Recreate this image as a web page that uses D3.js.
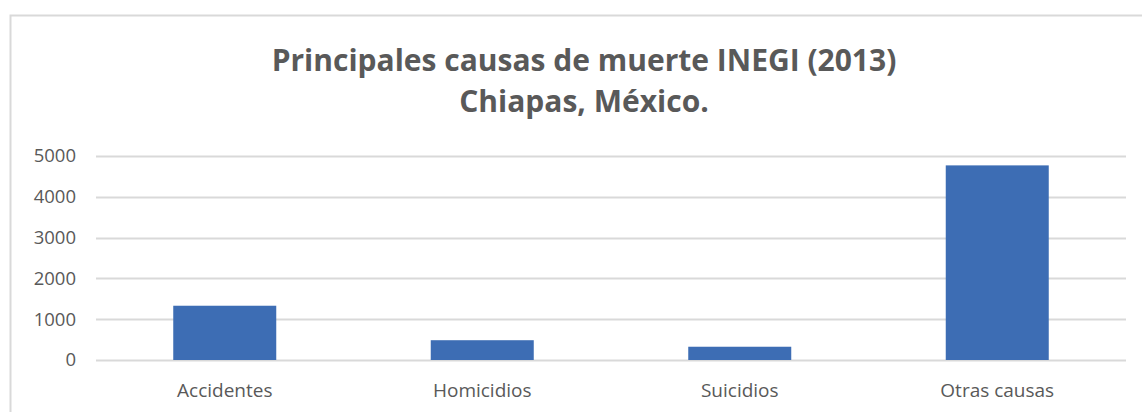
<!DOCTYPE html>
<html>
<head>
<meta charset="utf-8">
<title>Principales causas de muerte INEGI (2013)</title>
<script src="https://cdn.jsdelivr.net/npm/d3@7"></script>
<style>
  body { margin: 0; background: #fff; }
  svg { display: block; font-family: "Open Sans", "Noto Sans", sans-serif; }
  .title { font-weight: bold; fill: #595959; }
  .tick text { fill: #595959; font-family: "Open Sans", "Noto Sans", sans-serif; }
</style>
</head>
<body>
<div id="chart"></div>
<script>
var categories = ["Accidentes", "Homicidios", "Suicidios", "Otras causas"];
var values = [1330, 485, 325, 4770];
var yTicks = [0, 1000, 2000, 3000, 4000, 5000];
var titleLines = ["Principales causas de muerte INEGI (2013)", "Chiapas, México."];

var W = 1142, H = 412;
var margin = {left: 96, right: 16, top: 156, bottom: 52};

var svg = d3.select("#chart").append("svg")
    .attr("width", W).attr("height", H);

// chart area border (only left + top visible in the crop)
svg.append("rect")
    .attr("x", 10.5).attr("y", 15.5)
    .attr("width", W + 20).attr("height", H + 20)
    .attr("fill", "none").attr("stroke", "#d9d9d9").attr("stroke-width", 2);

var x = d3.scaleBand()
    .domain(categories)
    .range([margin.left, W - margin.right])
    .padding(0);

var y = d3.scaleLinear()
    .domain([0, 5000])
    .range([H - margin.bottom, margin.top]);

// gridlines
svg.append("g").selectAll("line")
    .data(yTicks)
    .enter().append("line")
    .attr("x1", margin.left).attr("x2", W - margin.right)
    .attr("y1", function(d){ return Math.round(y(d)) + 0.5; })
    .attr("y2", function(d){ return Math.round(y(d)) + 0.5; })
    .attr("stroke", "#d9d9d9").attr("stroke-width", 2);

// bars
var barW = x.bandwidth() * 0.4;
svg.append("g").selectAll("rect")
    .data(values)
    .enter().append("rect")
    .attr("x", function(d, i){ return x(categories[i]) + (x.bandwidth() - barW) / 2; })
    .attr("y", function(d){ return y(d); })
    .attr("width", barW)
    .attr("height", function(d){ return y(0) - y(d); })
    .attr("fill", "#3d6db4");

// y axis
var yAxis = svg.append("g")
    .attr("transform", "translate(" + margin.left + ",0)")
    .call(d3.axisLeft(y).tickValues(yTicks).tickSize(0).tickPadding(20).tickFormat(d3.format("d")));
yAxis.select(".domain").remove();
yAxis.selectAll("text").style("font-size", "18.5px");

// x axis
var xAxis = svg.append("g")
    .attr("transform", "translate(0," + (H - margin.bottom) + ")")
    .call(d3.axisBottom(x).tickSize(0).tickPadding(24));
xAxis.select(".domain").remove();
xAxis.selectAll("text").style("font-size", "19px");

// title
svg.append("text")
    .attr("class", "title")
    .attr("x", 584).attr("y", 71)
    .attr("text-anchor", "middle")
    .style("font-size", "30px")
    .selectAll("tspan")
    .data(titleLines)
    .enter().append("tspan")
    .attr("x", 584)
    .attr("dy", function(d, i){ return i ? 41 : 0; })
    .text(function(d){ return d; });
</script>
</body>
</html>
